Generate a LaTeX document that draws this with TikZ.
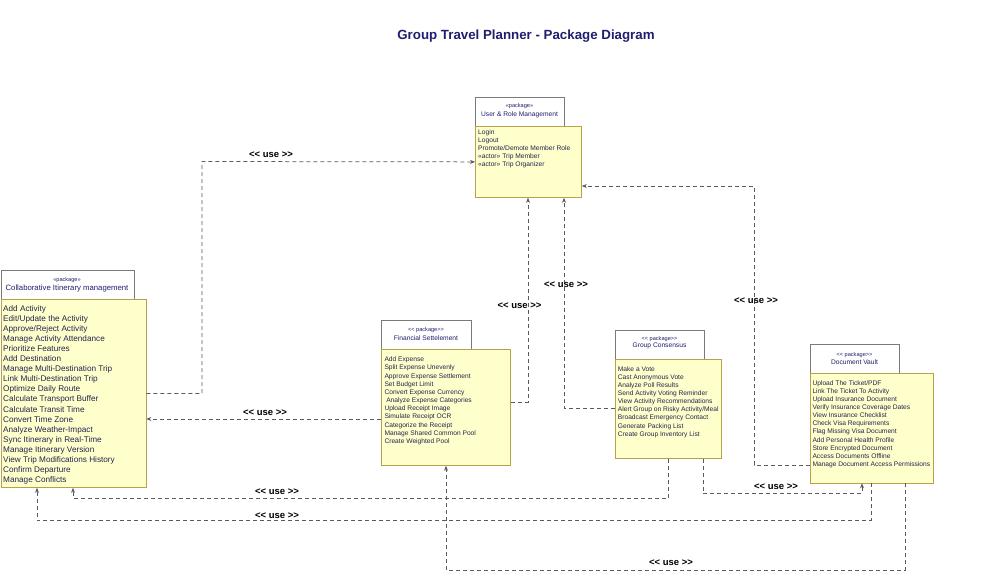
\documentclass[tikz,border=0pt]{standalone}
\usepackage{fontspec}
\setmainfont{Liberation Sans}
\usetikzlibrary{arrows.meta}
\definecolor{navy}{HTML}{1F1F6E}
\definecolor{itemc}{HTML}{23234F}
\definecolor{boxfill}{HTML}{FFFFCC}
\definecolor{boxline}{HTML}{B5A24C}
\definecolor{tabline}{HTML}{7A7A7A}
\definecolor{linec}{HTML}{5A5A5A}
\begin{document}
\begin{tikzpicture}[x=1pt,y=-1pt,
  tabbox/.style={draw=tabline, fill=white, line width=0.8pt, anchor=north west, inner sep=0pt},
  bodybox/.style={draw=boxline, fill=boxfill, line width=0.8pt, anchor=north west, inner sep=0pt},
  stereo/.style={text=navy, inner sep=0pt, font=\fontsize{5.6}{6}\selectfont, text height=4pt, text depth=1pt},
  pkgname/.style={text=navy, inner sep=0pt, font=\fontsize{6.67}{7}\selectfont, text height=5pt, text depth=1.4pt},
  item/.style={text=itemc, inner sep=0pt, anchor=base west, font=\fontsize{6.66}{8}\selectfont},
  bigitem/.style={text=itemc, inner sep=0pt, anchor=base west, font=\fontsize{8.2}{10}\selectfont},
  usage/.style={draw=linec, line width=0.75pt, dash pattern=on 4pt off 3pt, -{Stealth[length=5pt,width=4pt]}},
  uselabel/.style={font=\bfseries\fontsize{9.5}{11}\selectfont, text=black, inner sep=1pt}]
\useasboundingbox (0,0) rectangle (1000,578);
\fill[white] (0,0) rectangle (1000,578);

% title
\node[font=\bfseries\fontsize{13.3}{15}\selectfont, text=navy] (title) at (526,36.5) {Group Travel Planner - Package Diagram};

% ---------- User & Role Management ----------
\node[tabbox, minimum width=89pt, minimum height=29pt] (ut) at (475,97) {};
\node[bodybox, minimum width=106pt, minimum height=71pt] (ub) at (475,126) {};
\node[stereo] (ut1) at (519.5,105.7) {«package»};
\node[pkgname] (ut2) at (519.5,114.7) {User \& Role Management};
\foreach \t [count=\i] in {Login, Logout, {Promote/Demote Member Role}, «actor» Trip Member, «actor» Trip Organizer}
  \node[item] (ui\i) at (478,{134.5+8*(\i-1)}) {\t};

% ---------- Collaborative Itinerary management ----------
\node[tabbox, minimum width=133pt, minimum height=29pt] (ct) at (0.5,270) {};
\node[bodybox, minimum width=145pt, minimum height=188pt] (cb) at (0.5,299) {};
\node[stereo] (ct1) at (67,280) {«package»};
\node[pkgname, font=\fontsize{7.75}{8}\selectfont] (ct2) at (67,289) {Collaborative Itinerary management};
\foreach \t [count=\i] in {Add Activity, {Edit/Update the Activity}, {Approve/Reject Activity}, Manage Activity Attendance, Prioritize Features, Add Destination, Manage Multi-Destination Trip, Link Multi-Destination Trip, Optimize Daily Route, Calculate Transport Buffer, Calculate Transit Time, Convert Time Zone, Analyze Weather-Impact, Sync Itinerary in Real-Time, Manage Itinerary Version, View Trip Modifications History, Confirm Departure, Manage Conflicts}
  \node[bigitem] (ci\i) at (3,{311.6+10.04*(\i-1)}) {\t};

% ---------- Financial Settelement ----------
\node[tabbox, minimum width=90pt, minimum height=29pt] (ft) at (381,320) {};
\node[bodybox, minimum width=129pt, minimum height=116pt] (fb) at (381,349) {};
\node[stereo] (ft1) at (426,330) {<{}< package>{}>};
\node[pkgname] (ft2) at (426,338.5) {Financial Settelement};
\foreach \t [count=\i] in {Add Expense, Split Expense Unevenly, Approve Expense Settlement, Set Budget Limit, Convert Expense Currency, {\hspace{1.8pt}Analyze Expense Categories}, Upload Receipt Image, Simulate Receipt OCR, Categorize the Receipt, Manage Shared Common Pool, Create Weighted Pool}
  \node[item] (fi\i) at (384.3,{361.8+8.17*(\i-1)}) {\t};

% ---------- Group Consensus ----------
\node[tabbox, minimum width=89pt, minimum height=29pt] (gt) at (615,330) {};
\node[bodybox, minimum width=106pt, minimum height=99pt] (gb) at (615,359) {};
\node[stereo] (gt1) at (659.5,339) {<{}< package>{}>};
\node[pkgname] (gt2) at (659.5,346) {Group Consensus};
\foreach \t [count=\i] in {Make a Vote, Cast Anonymous Vote, Analyze Poll Results, Send Activity Voting Reminder, View Activity Recommendations, {Alert Group on Risky Activity/Meal}, Broadcast Emergency Contact, Generate Packing List, Create Group Inventory List}
  \node[item] (gi\i) at (617.7,{371.5+8.08*(\i-1)}) {\t};

% ---------- Document Vault ----------
\node[tabbox, minimum width=89pt, minimum height=29pt] (dt) at (810,343.5) {};
\node[bodybox, minimum width=123pt, minimum height=110pt] (db) at (810,372.5) {};
\node[stereo] (dt1) at (854.5,354.5) {<{}< package>{}>};
\node[pkgname] (dt2) at (854.5,363) {Document Vault};
\foreach \t [count=\i] in {{Upload The Ticket/PDF}, Link The Ticket To Activity, Upload Insurance Document, Verify Insurance Coverage Dates, View Insurance Checklist, Check Visa Requirements, Flag Missing Visa Document, Add Personal Health Profile, Store Encrypted Document, Access Documents Offline, Manage Document Access Permissions}
  \node[item] (di\i) at (812.3,{385.2+8.13*(\i-1)}) {\t};

% ---------- bend points ----------
\coordinate (k1) at (202,161.5);
\coordinate (k5) at (754,186);
\coordinate (k6) at (668,498.3);
\coordinate (k6b) at (73,498.3);
\coordinate (k7) at (703,493.5);
\coordinate (k7b) at (862,493.5);
\coordinate (k8) at (871,520.5);
\coordinate (k8b) at (37,520.5);
\coordinate (k9) at (905,570);
\coordinate (k9b) at (446,570);

% ---------- connectors ----------
\draw[usage] (cb.east) -| (k1) -- (ub.west);
\draw[usage] (fb.west |- 0,419) -- (cb.east |- 0,419);
\draw[usage] (fb.east |- 0,402) -| (ub.south -| 528,0);
\draw[usage] (gb.west |- 0,408) -| (ub.south -| 564,0);
\draw[usage] (db.west |- 0,465) -| (k5) -- (ub.east |- k5);
\draw[usage] (gb.south -| k6) -- (k6) -- (k6b) -- (cb.south -| k6b);
\draw[usage] (gb.south -| k7) -- (k7) -- (k7b) -- (db.south -| k7b);
\draw[usage] (db.south -| k8) -- (k8) -- (k8b) -- (cb.south -| k8b);
\draw[usage] (db.south -| k9) -- (k9) -- (k9b) -- (fb.south -| k9b);

% ---------- labels ----------
\node[uselabel] (l1) at (271,155) {<{}< use >{}>};
\node[uselabel] (l2) at (265,413) {<{}< use >{}>};
\node[uselabel] (l3) at (519.5,306) {<{}< use >{}>};
\node[uselabel] (l4) at (566,284.5) {<{}< use >{}>};
\node[uselabel] (l5) at (756,301) {<{}< use >{}>};
\node[uselabel] (l6) at (277,492) {<{}< use >{}>};
\node[uselabel] (l7) at (776,487) {<{}< use >{}>};
\node[uselabel] (l8) at (277,515.5) {<{}< use >{}>};
\node[uselabel] (l9) at (671,562.3) {<{}< use >{}>};
\end{tikzpicture}
\end{document}
